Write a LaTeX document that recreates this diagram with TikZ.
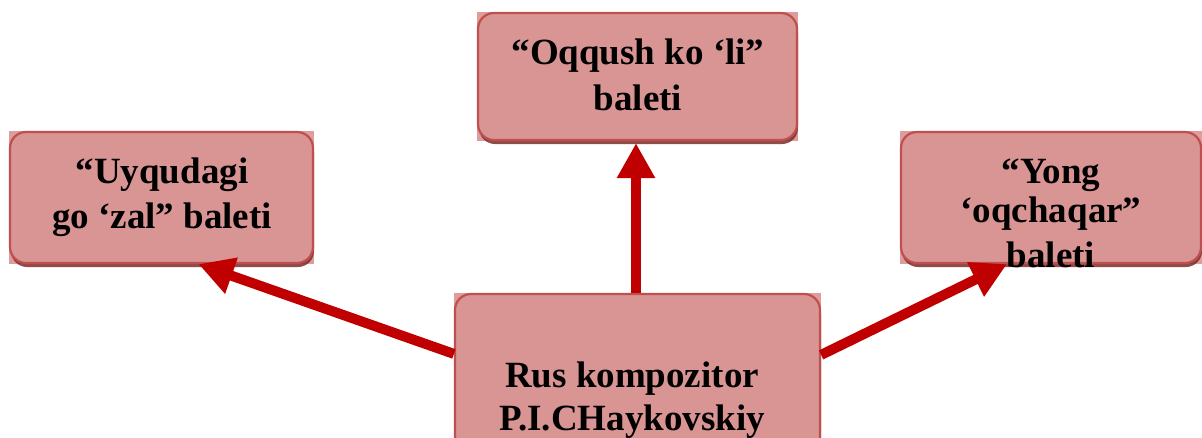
\documentclass[tikz,border=0pt]{standalone}
\usepackage{fontspec}
\setmainfont{Liberation Serif}
\usetikzlibrary{arrows.meta,shadows,backgrounds}
\definecolor{boxfill}{HTML}{D99594}
\definecolor{boxline}{HTML}{C0504D}
\definecolor{boxsq}{HTML}{DD9D9C}
\definecolor{shad}{HTML}{7A2E2C}
\definecolor{arr}{HTML}{C00000}
\begin{document}
\begin{tikzpicture}[x=1pt,y=-1pt,
  box/.style={draw=boxline, line width=2.2pt, fill=boxfill, rounded corners=16pt, inner sep=0pt,
    drop shadow={shadow xshift=1pt, shadow yshift=-4pt, fill=shad, opacity=0.85}},
  lbl/.style={font=\bfseries\fontsize{37}{44}\selectfont, inner sep=0pt, anchor=base},
  link/.style={draw=arr, line width=10pt, -{Triangle[width=36pt,length=35pt]}}]
\useasboundingbox (0,0) rectangle (1202,437);
\node[box, minimum width=319pt, minimum height=127pt] (top) at (637.5,76.5) {};
\node[box, minimum width=303pt, minimum height=131pt] (left) at (161.5,197.5) {};
\node[box, minimum width=300pt, minimum height=131pt] (right) at (1051,197.5) {};
\node[box, minimum width=365pt, minimum height=158pt] (bot) at (637.5,373) {};
\begin{scope}[on background layer]
  \fill[boxsq] (top.south west) rectangle (top.north east);
  \fill[boxsq] (left.south west) rectangle (left.north east);
  \fill[boxsq] (right.south west) rectangle (right.north east);
  \fill[boxsq] (bot.south west) rectangle (bot.north east);
\end{scope}
\draw[link] ([xshift=-1.5pt]bot.north) -- ([xshift=-1.5pt,yshift=-2pt]top.south);
\draw[link] ([yshift=-61pt]bot.north west) -- ([xshift=37pt]left.south);
\draw[link] ([yshift=-62pt]bot.north east) -- ([xshift=-44pt]right.south);
\node[lbl] (t1) at (638,64) {“Oqqush ko ‘li”};
\node[lbl] (t2) at (638,110) {baleti};
\node[lbl] (l1) at (162,183) {“Uyqudagi};
\node[lbl] (l2) at (162,228) {go ‘zal” baleti};
\node[lbl] (r1) at (1051,183) {“Yong};
\node[lbl] (r2) at (1051,222) {‘oqchaqar”};
\node[lbl] (r3) at (1051,267) {baleti};
\node[lbl] (b1) at (632,387) {Rus kompozitor};
\node[lbl] (b2) at (632,430) {P.I.CHaykovskiy};
\end{tikzpicture}
\end{document}
